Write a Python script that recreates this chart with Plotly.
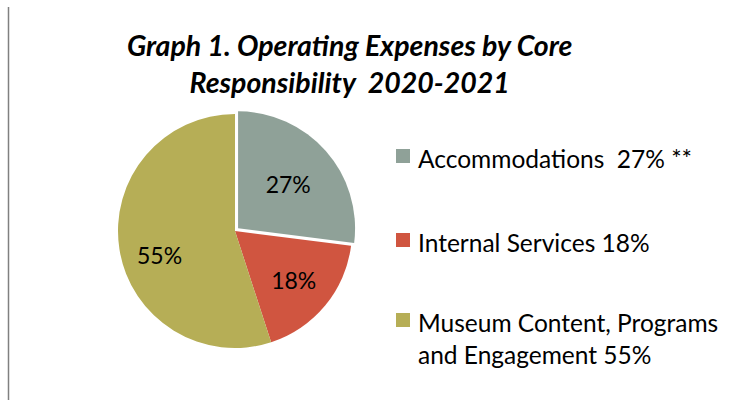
import plotly.graph_objects as go

categories = ["Accommodations", "Internal Services", "Museum Content, Programs and Engagement"]
values = [27, 18, 55]
legend_labels = ["Accommodations  27% **", "Internal Services 18%", "Museum Content, Programs<br>and Engagement 55%"]
colors = ["#8FA198", "#D05540", "#B6AE56"]
pulls = [0.035, 0, 0]

W, H = 745, 400
FONT = "Lato"

fig = go.Figure()
R = 117 * 1.035
cx, cy = 235, 231
fig.add_trace(go.Pie(
    labels=categories, values=values, sort=False, direction="clockwise", rotation=0,
    marker=dict(colors=colors, line=dict(width=0)),
    pull=pulls,
    texttemplate=["%{percent}", "%{percent}", "&#160;<br>%{percent}      "],
    textposition="inside", insidetextorientation="horizontal",
    textfont=dict(family=FONT, size=23, color="black"),
    showlegend=False, hoverinfo="label+percent",
    domain=dict(x=[(cx - R) / W, (cx + R) / W], y=[(H - cy - R) / H, (H - cy + R) / H]),
))

shapes = [dict(type="line", xref="paper", yref="paper", x0=8.5 / W, x1=8.5 / W, y0=0, y1=1 - 7 / H,
               line=dict(color="#808080", width=1.5))]
annotations = []
legend_y = [156, 240, 320]
for lab, col, ly in zip(legend_labels, colors, legend_y):
    shapes.append(dict(type="rect", xref="paper", yref="paper",
                       x0=396 / W, x1=410 / W, y0=1 - (ly + 7) / H, y1=1 - (ly - 7) / H,
                       fillcolor=col, line=dict(width=0)))
    annotations.append(dict(text=lab, xref="paper", yref="paper", x=416 / W, y=1 - (ly - 14) / H,
                            xanchor="left", yanchor="top", align="left", showarrow=False,
                            font=dict(family=FONT, size=24.5, color="black")))

annotations.append(dict(text="<b><i>Graph 1. Operating Expenses by Core<br>Responsibility  2020-2021</i></b>",
                        xref="paper", yref="paper", x=349 / W, y=1 - 26 / H, xanchor="center", yanchor="top",
                        align="center", showarrow=False, font=dict(family=FONT, size=28.5, color="black")))

fig.update_layout(width=W, height=H, margin=dict(l=0, r=0, t=0, b=0),
                  paper_bgcolor="white", plot_bgcolor="white",
                  shapes=shapes, annotations=annotations)
fig.write_html("out.html", config={"displayModeBar": False},
               post_script="document.body.style.margin='0px';")
